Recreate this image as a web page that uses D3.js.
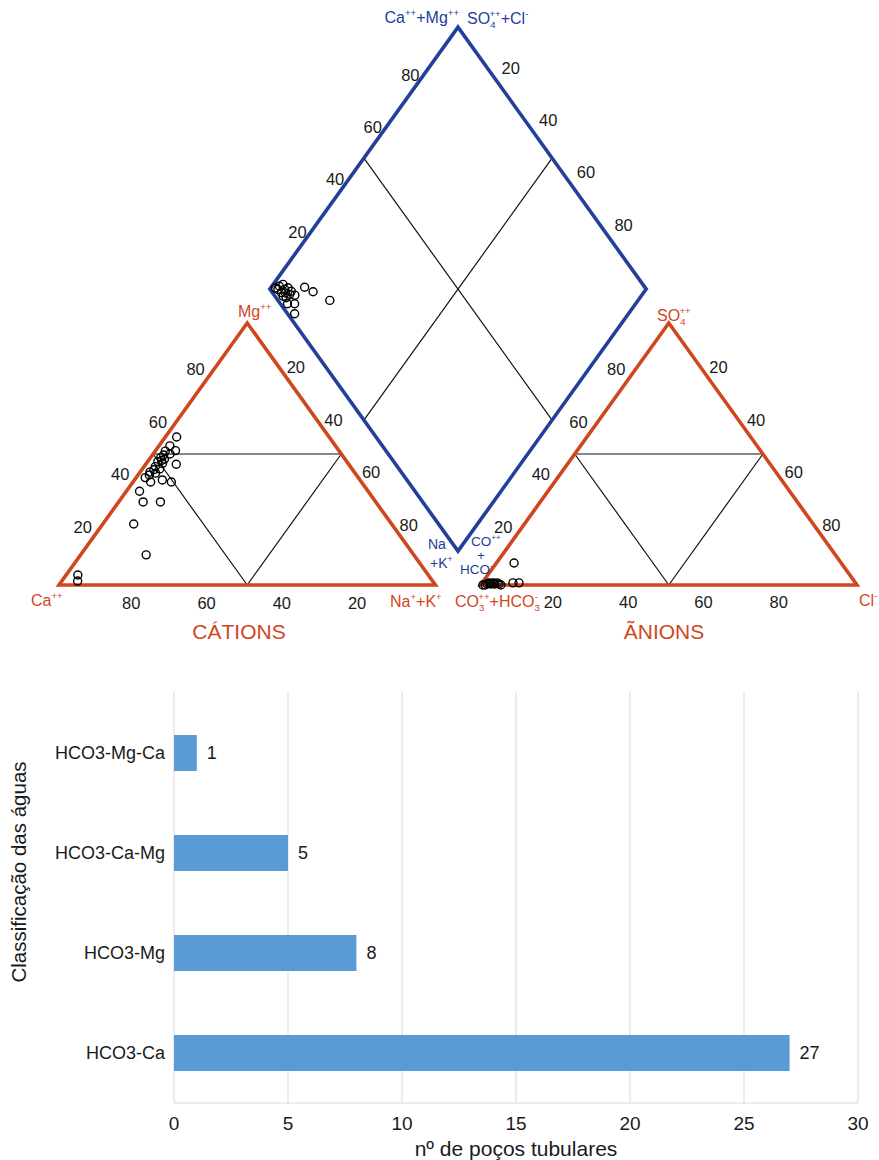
<!DOCTYPE html>
<html>
<head>
<meta charset="utf-8">
<script src="https://cdn.jsdelivr.net/npm/d3@7"></script>
<style>
  body { margin: 0; background: #fff; }
  svg { display: block; }
  text { font-family: "Liberation Sans", Arial, Helvetica, sans-serif; }
</style>
</head>
<body>
<svg id="chart" width="879" height="1160"></svg>
<script>
// ---------- Piper diagram data ----------
// cation triangle: [Mg %, Na+K %] (Ca is the remainder)
const cationPts = [
  [56.5, 3.0], [53.1, 2.9], [51.3, 5.3], [51.1, 2.7], [49.6, 3.0], [48.7, 2.7],
  [48.0, 4.0], [47.1, 2.7], [46.4, 4.3], [46.1, 8.1], [45.2, 3.0], [44.3, 4.6],
  [43.1, 2.6], [42.7, 4.3], [41.0, 2.4], [39.3, 4.7], [40.1, 7.4], [39.3, 10.2],
  [35.8, 3.5], [31.7, 6.5], [31.7, 11.1], [23.3, 8.2], [11.5, 17.4], [3.8, 3.1],
  [1.5, 4.2], [50.0, 4.5], [47.5, 3.5], [44.0, 3.2], [42.0, 3.0]
];
// anion triangle: [SO4 %, Cl %] (CO3+HCO3 is the remainder)
const anionPts = [
  [0, 0.6], [0, 1.2], [0.4, 1.5], [0.8, 1.8], [0.4, 2.6], [0.8, 2.9], [0.4, 3.6],
  [0.8, 4.0], [0.4, 4.7], [0, 5.4], [0.8, 8.2], [0.8, 9.8], [8.4, 4.7],
  [0.6, 2.2], [0.6, 3.2]
];
// diamond: [Na+K %, SO4+Cl %]
const diamondPts = [
  [8.9, 9.6], [12.0, 11.0], [18.1, 13.8], [7.8, 5.5], [9.4, 3.8], [11.3, 1.9],
  [7.5, 1.9], [6.0, 2.7], [2.0, 3.1], [2.6, 4.4], [4.0, 3.9], [3.8, 2.4],
  [4.6, 5.1], [2.2, 2.1], [6.3, 4.3], [4.9, 2.2], [1.3, 1.7], [6.1, 5.3], [4.9, 3.4]
];
const piperTicks = [20, 40, 60, 80];

// ---------- bar chart data ----------
const classes = ["HCO3-Mg-Ca", "HCO3-Ca-Mg", "HCO3-Mg", "HCO3-Ca"];
const wellCounts = [1, 5, 8, 27];
const countTicks = [0, 5, 10, 15, 20, 25, 30];

const svg = d3.select("#chart");
const ORANGE = "#d0461f", BLUE = "#22409a", FONT_BLACK = "#1a1a1a";

// ---------- Piper geometry (triangle side = 100 units) ----------
const SIN60 = Math.sqrt(3) / 2;
const TH = 100 * SIN60;          // triangle height in units
const GAP = 12;                  // spacing between the two triangles
const LIFT = 11.2;               // height of the diamond's lower vertex
const xs = d3.scaleLinear().domain([0, 200 + GAP]).range([59, 857]);
const ys = d3.scaleLinear().domain([0, TH]).range([585, 323]);
const P = (u, v) => [xs(u), ys(v)];
const cat = (mg, na) => P(na + mg / 2, mg * SIN60);
const ani = (so4, cl) => P(100 + GAP + cl + so4 / 2, so4 * SIN60);
const dL = [50 + GAP / 2, TH + LIFT];
const dia = (na, s) => P(dL[0] + (s + na) / 2, dL[1] + (s - na) * SIN60);

const poly = pts => "M" + pts.map(p => p.join(",")).join("L") + "Z";
const seg = (a, b) => "M" + a.join(",") + "L" + b.join(",");

const piper = svg.append("g");

// inner subdivision lines
const inner = [
  [cat(50, 0), cat(50, 50)], [cat(50, 0), cat(0, 50)], [cat(50, 50), cat(0, 50)],
  [ani(50, 0), ani(50, 50)], [ani(50, 0), ani(0, 50)], [ani(50, 50), ani(0, 50)],
  [dia(0, 50), dia(100, 50)], [dia(50, 100), dia(50, 0)]
];
piper.selectAll("path.inner").data(inner).join("path")
  .attr("class", "inner")
  .attr("d", d => seg(d[0], d[1]))
  .attr("fill", "none").attr("stroke", "#111").attr("stroke-width", 1.2);

// outlines
piper.append("path").attr("d", poly([cat(0, 0), cat(0, 100), cat(100, 0)]))
  .attr("fill", "none").attr("stroke", ORANGE).attr("stroke-width", 3.6);
piper.append("path").attr("d", poly([ani(0, 0), ani(0, 100), ani(100, 0)]))
  .attr("fill", "none").attr("stroke", ORANGE).attr("stroke-width", 3.6);
piper.append("path").attr("d", poly([dia(0, 0), dia(0, 100), dia(100, 100), dia(100, 0)]))
  .attr("fill", "none").attr("stroke", BLUE).attr("stroke-width", 3.6);

// tick labels along the edges
function tickLabels(fn, dx, dy) {
  piper.append("g").selectAll("text").data(piperTicks).join("text")
    .attr("x", v => fn(v)[0] + dx).attr("y", v => fn(v)[1] + dy)
    .attr("text-anchor", "middle").attr("dominant-baseline", "central")
    .attr("font-size", 16.5).attr("fill", FONT_BLACK)
    .text(v => v);
}
tickLabels(v => cat(v, 0), -14, -6);          // Mg
tickLabels(v => cat(100 - v, v), 11, -8);     // Na+K
tickLabels(v => cat(0, 100 - v), -3, 18);     // Ca
tickLabels(v => ani(v, 0), -15, -6);          // SO4
tickLabels(v => ani(100 - v, v), 12, -8);     // Cl
tickLabels(v => ani(0, v), -3, 17);           // Cl (base)
tickLabels(v => dia(0, v), -10, -5);          // SO4+Cl
tickLabels(v => dia(v, 100), 15, -12);        // Na+K

// sample points
const ptStyle = s => s.attr("r", 4).attr("fill", "none").attr("stroke", "#000").attr("stroke-width", 1.4);
piper.append("g").selectAll("circle").data(cationPts).join("circle")
  .attr("cx", d => cat(d[0], d[1])[0]).attr("cy", d => cat(d[0], d[1])[1]).call(ptStyle);
piper.append("g").selectAll("circle").data(anionPts).join("circle")
  .attr("cx", d => ani(d[0], d[1])[0]).attr("cy", d => ani(d[0], d[1])[1]).call(ptStyle);
piper.append("g").selectAll("circle").data(diamondPts).join("circle")
  .attr("cx", d => dia(d[0], d[1])[0]).attr("cy", d => dia(d[0], d[1])[1]).call(ptStyle);

// chemical labels with super/subscripts
function chem(x, y, parts, color, size, anchor) {
  const t = piper.append("text").attr("x", x).attr("y", y)
    .attr("fill", color).attr("font-size", size).attr("text-anchor", anchor || "start");
  let shift = 0;
  parts.forEach(p => {
    const k = p[1];
    const target = k === "sup" ? -size * 0.42 : k === "sub" ? size * 0.28 : 0;
    const s = t.append("tspan").text(p[0]).attr("dy", target - shift);
    if (k) s.attr("font-size", size * 0.6);
    if (p[2]) s.attr("dx", p[2]);
    shift = target;
  });
}
chem(459, 23, [["Ca"], ["++", "sup"], ["+Mg"], ["++", "sup"]], BLUE, 16, "end");
chem(467, 24, [["SO"], ["4", "sub"], ["++", "sup", -6], ["+Cl"], ["-", "sup"]], BLUE, 16);
chem(238, 317, [["Mg"], ["++", "sup"]], ORANGE, 16);
chem(31, 606, [["Ca"], ["++", "sup"]], ORANGE, 16);
chem(390, 607, [["Na"], ["+", "sup"], ["+K"], ["+", "sup"]], ORANGE, 16);
chem(455, 607, [["CO"], ["3", "sub"], ["++", "sup", -6], ["+HCO"], ["3", "sub"], ["-", "sup", -5]], ORANGE, 16);
chem(657, 321, [["SO"], ["4", "sub"], ["++", "sup", -6]], ORANGE, 16);
chem(859, 606, [["Cl"], ["-", "sup"]], ORANGE, 16);
chem(428, 549, [["Na"]], BLUE, 14);
chem(430, 568, [["+K"], ["+", "sup"]], BLUE, 14);
chem(471, 546, [["CO"], ["++", "sup"]], BLUE, 13.5);
chem(481, 560, [["+"]], BLUE, 13.5, "middle");
chem(460, 574, [["HCO"], ["-", "sup"]], BLUE, 13.5);

piper.append("text").attr("x", 239).attr("y", 639).attr("text-anchor", "middle")
  .attr("font-size", 21).attr("fill", ORANGE).text("CÁTIONS");
piper.append("text").attr("x", 664).attr("y", 639).attr("text-anchor", "middle")
  .attr("font-size", 21).attr("fill", ORANGE).text("ÃNIONS");

// ---------- horizontal bar chart ----------
const bx = d3.scaleLinear().domain([0, 30]).range([174, 858]);
const by = d3.scaleBand().domain(classes).range([703, 1103]).paddingInner(0.64).paddingOuter(0.32);
const bars = svg.append("g");
const GRID_TOP = 692, GRID_BOTTOM = 1103;

bars.append("g").selectAll("line").data(countTicks).join("line")
  .attr("x1", d => bx(d)).attr("x2", d => bx(d))
  .attr("y1", GRID_TOP).attr("y2", GRID_BOTTOM)
  .attr("stroke", "#d9d9d9").attr("stroke-width", 1);
bars.append("line").attr("x1", bx(0)).attr("x2", bx(30))
  .attr("y1", GRID_BOTTOM).attr("y2", GRID_BOTTOM)
  .attr("stroke", "#d9d9d9").attr("stroke-width", 1);

bars.append("g").selectAll("rect").data(classes).join("rect")
  .attr("x", bx(0)).attr("y", d => by(d))
  .attr("width", (d, i) => bx(wellCounts[i]) - bx(0))
  .attr("height", by.bandwidth())
  .attr("fill", "#5b9bd5");

bars.append("g").selectAll("text").data(classes).join("text")
  .attr("x", (d, i) => bx(wellCounts[i]) + 10)
  .attr("y", d => by(d) + by.bandwidth() / 2)
  .attr("dominant-baseline", "central")
  .attr("font-size", 18).attr("fill", FONT_BLACK)
  .text((d, i) => wellCounts[i]);

// category axis labels
bars.append("g").selectAll("text").data(classes).join("text")
  .attr("x", bx(0) - 9).attr("y", d => by(d) + by.bandwidth() / 2)
  .attr("text-anchor", "end").attr("dominant-baseline", "central")
  .attr("font-size", 18).attr("fill", FONT_BLACK)
  .text(d => d);

// value axis labels
bars.append("g").selectAll("text").data(countTicks).join("text")
  .attr("x", d => bx(d)).attr("y", 1123)
  .attr("text-anchor", "middle").attr("dominant-baseline", "central")
  .attr("font-size", 19).attr("fill", FONT_BLACK)
  .text(d => d);

bars.append("text").attr("x", bx(15)).attr("y", 1156)
  .attr("text-anchor", "middle").attr("font-size", 21).attr("fill", FONT_BLACK)
  .text("nº de poços tubulares");

bars.append("text")
  .attr("transform", "translate(26,872) rotate(-90)")
  .attr("text-anchor", "middle").attr("font-size", 20.5).attr("fill", FONT_BLACK)
  .text("Classificação das águas");
</script>
</body>
</html>
